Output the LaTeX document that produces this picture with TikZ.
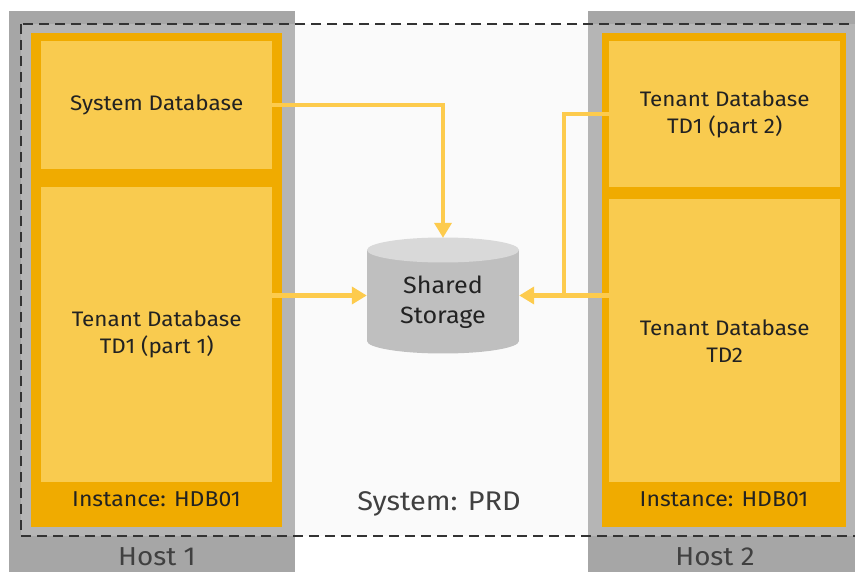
\documentclass[tikz,border=0pt]{standalone}
\usepackage{fontspec}
\setmainfont[FakeStretch=1.07]{Fira Sans}
\usetikzlibrary{arrows.meta}
\definecolor{hostdark}{HTML}{A6A6A6}
\definecolor{hostlight}{HTML}{B5B5B5}
\definecolor{midbg}{HTML}{FAFAFA}
\definecolor{instorange}{HTML}{F0AB00}
\definecolor{dbyellow}{HTML}{F9CB4F}
\definecolor{linec}{HTML}{FDCB4D}
\definecolor{cylbody}{HTML}{BFBFBF}
\definecolor{cyltop}{HTML}{D9D9D9}
\definecolor{txt}{HTML}{222222}
\begin{document}
\begin{tikzpicture}[x=1pt,y=-1pt,
  dbtext/.style={font=\fontsize{21}{27}\selectfont, text=txt, align=center},
  insttext/.style={font=\fontsize{21.5}{27}\selectfont, text=txt},
  dbbox/.style={fill=dbyellow, draw=none},
  instbox/.style={fill=instorange, draw=none},
  conn/.style={draw=linec, line width=4.5pt, -{Triangle[length=15pt,width=17pt]}},
  connplain/.style={draw=linec, line width=4.5pt},
  hostlabel/.style={font=\fontsize{26}{30}\selectfont, text=black!75},
]
\clip (0,0) rectangle (855,572);
\useasboundingbox (0,0) rectangle (855,572);
\fill[white] (0,0) rectangle (855,572);
% hosts
\fill[hostdark] (9,11) rectangle (295,580);
\fill[hostdark] (588,11) rectangle (870,580);
\fill[hostlight] (21,24) rectangle (295,536);
\fill[hostlight] (588,24) rectangle (870,536);
\fill[midbg] (295,24) rectangle (588,536);
\draw[black!80, line width=1.8pt, dash pattern=on 10pt off 6pt] (21,24) rectangle (875,536);
% instances
\fill[instbox] (31,33) rectangle (282,527);
\fill[instbox] (602,33) rectangle (846,527);
\node[dbbox, minimum width=231pt, minimum height=128pt, inner sep=0, anchor=north west, dbtext] (sysdb) at (41,41) {System Database};
\node[dbbox, minimum width=231pt, minimum height=295pt, inner sep=0, anchor=north west, dbtext] (tda) at (41,187) {Tenant Database\\TD1 (part 1)};
\node[dbbox, minimum width=231pt, minimum height=146pt, inner sep=0, anchor=north west, dbtext] (tdb) at (609,41) {Tenant Database\\TD1 (part 2)};
\node[dbbox, minimum width=231pt, minimum height=283pt, inner sep=0, anchor=north west, dbtext] (tdtwo) at (609,199) {Tenant Database\\TD2};
\node[insttext] (inst1) at (156.5,499) {Instance: HDB01};
\node[insttext] (inst2) at (724,499) {Instance: HDB01};
% storage cylinder
\fill[cylbody] (367,250) rectangle (519,341);
\fill[cylbody] (443,341) ellipse [x radius=76pt, y radius=12.5pt];
\fill[cyltop] (443,250) ellipse [x radius=76pt, y radius=12.5pt];
\node[minimum width=152pt, minimum height=115pt, inner sep=0] (storage) at (443,295.5) {};
\node[font=\fontsize{23.5}{30}\selectfont, text=txt, align=center] (stext) at (443,302) {Shared\\Storage};
% labels
\node[font=\fontsize{27}{28}\selectfont, text=black!75] (sys) at (439,504) {System: PRD};
\node[hostlabel] (h1) at (157,556.5) {Host 1};
\node[hostlabel] (h2) at (715,556.5) {Host 2};
% connectors
\coordinate (j) at (564,295.5);
\draw[conn] (sysdb.east) -| (storage.north);
\draw[conn] (tda.east |- storage.west) -- (storage.west);
\draw[conn] (tdtwo.west |- storage.east) -- (storage.east);
\draw[connplain] (tdb.west) -| (j);
\end{tikzpicture}
\end{document}
